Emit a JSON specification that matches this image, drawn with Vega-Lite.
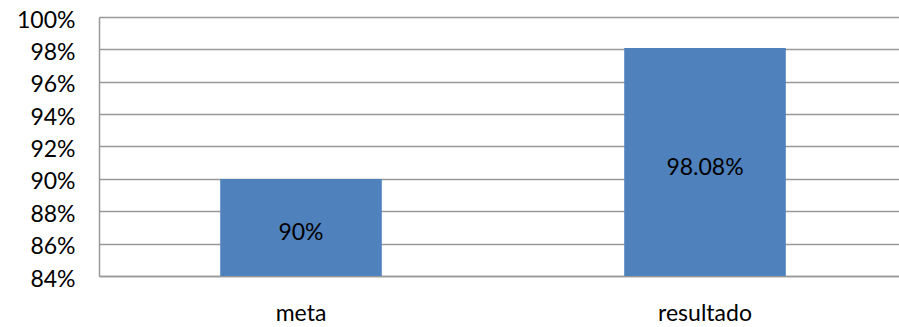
{
  "$schema": "https://vega.github.io/schema/vega-lite/v6.json",
  "autosize": "none",
  "padding": {"left": 99, "top": 17, "right": 0, "bottom": 51},
  "width": 808,
  "height": 259,
  "background": "white",
  "config": {
    "view": {"stroke": null},
    "font": "Lato"
  },
  "data": {
    "values": [
      {"categoria": "meta", "valor": 0.90},
      {"categoria": "resultado", "valor": 0.9808}
    ]
  },
  "encoding": {
    "x": {
      "field": "categoria",
      "type": "nominal",
      "sort": null,
      "scale": {"paddingInner": 0.6, "paddingOuter": 0.3},
      "axis": {
        "title": null,
        "labelAngle": 0,
        "labelFont": "Lato",
        "labelFontSize": 23,
        "labelColor": "#000000",
        "labelPadding": 26,
        "ticks": false,
        "domainColor": "#999999",
        "domainWidth": 1.5
      }
    }
  },
  "layer": [
    {
      "mark": {"type": "bar", "color": "#4F81BD"},
      "encoding": {
        "y": {
          "field": "valor",
          "type": "quantitative",
          "scale": {"domain": [0.84, 1.0], "zero": false, "nice": false},
          "axis": {
            "title": null,
            "values": [0.84, 0.86, 0.88, 0.90, 0.92, 0.94, 0.96, 0.98, 1.0],
            "format": ".0%",
            "labelFont": "Lato",
            "labelFontSize": 23,
            "labelColor": "#000000",
            "labelPadding": 24,
            "labelOverlap": false,
            "labelOffset": 3,
            "ticks": false,
            "grid": true,
            "gridColor": "#999999",
            "gridWidth": 1.5,
            "domain": true,
            "domainColor": "#999999",
            "domainWidth": 1.5,
            "zindex": 0
          }
        },
        "y2": {"datum": 0.84}
      }
    },
    {
      "transform": [{"calculate": "(datum.valor + 0.84) / 2", "as": "medio"}],
      "mark": {"type": "text", "baseline": "middle", "align": "center", "dy": 6, "fontSize": 23, "font": "Lato", "color": "#000000"},
      "encoding": {
        "y": {
          "field": "medio",
          "type": "quantitative",
          "scale": {"domain": [0.84, 1.0], "zero": false, "nice": false},
          "axis": {
            "title": null,
            "values": [0.84, 0.86, 0.88, 0.90, 0.92, 0.94, 0.96, 0.98, 1.0],
            "format": ".0%",
            "labelFont": "Lato",
            "labelFontSize": 23,
            "labelColor": "#000000",
            "labelPadding": 24,
            "labelOverlap": false,
            "labelOffset": 3,
            "ticks": false,
            "grid": true,
            "gridColor": "#999999",
            "gridWidth": 1.5,
            "domain": true,
            "domainColor": "#999999",
            "domainWidth": 1.5,
            "zindex": 0
          }
        },
        "text": {"field": "valor", "type": "quantitative", "format": ".2~%"}
      }
    }
  ]
}
